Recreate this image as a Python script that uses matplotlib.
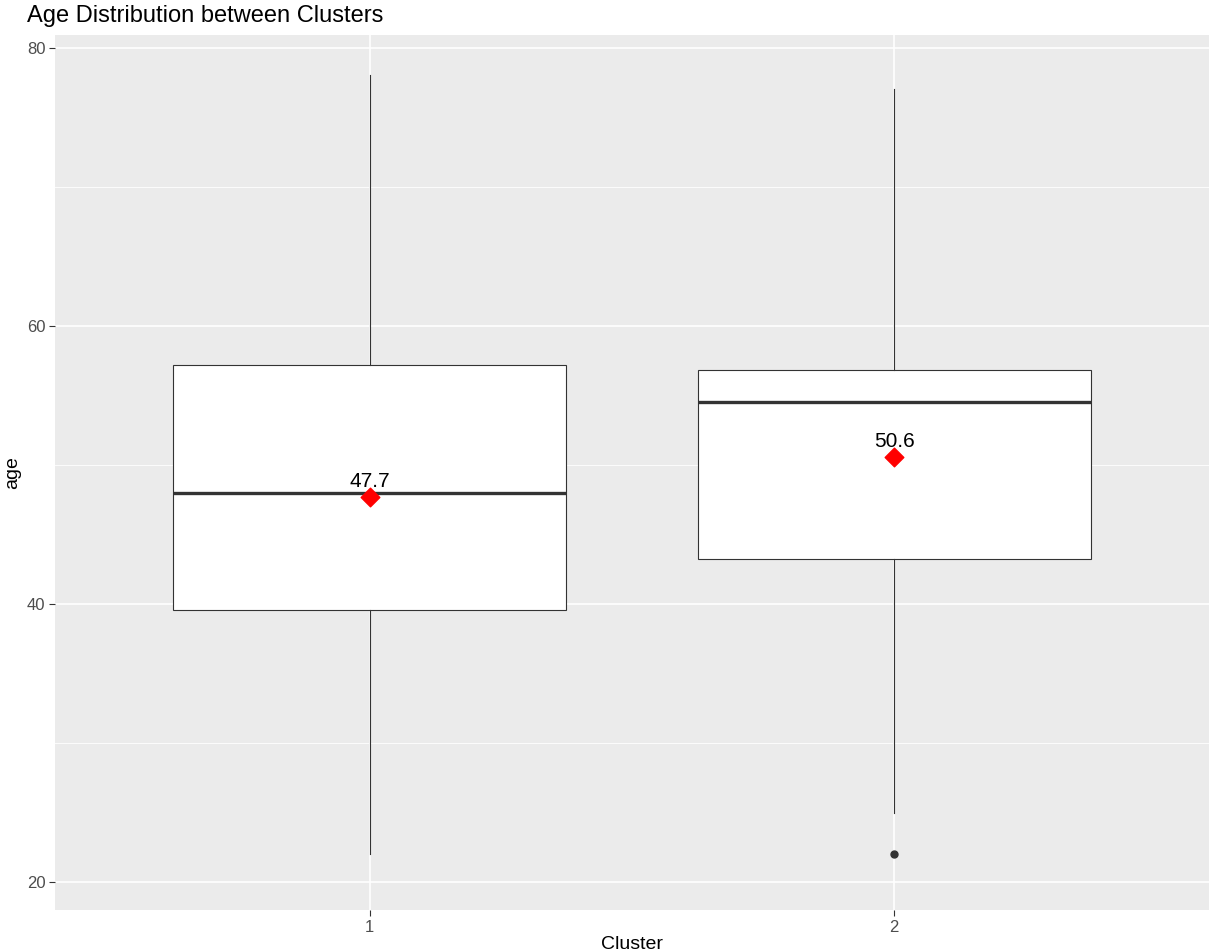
import matplotlib.pyplot as plt

clusters = ["1", "2"]
whislo = [22, 25]
q1 = [39.6, 43.2]
med = [48.0, 54.5]
q3 = [57.2, 56.8]
whishi = [78, 77]
means = [47.7, 50.6]
outliers = [[], [22]]

plt.rcParams['font.family'] = ['Liberation Sans', 'DejaVu Sans']

fig = plt.figure(figsize=(12.09, 9.49), dpi=100)
ax = fig.add_axes([55/1209, 39/949, 1 - 55/1209, 875/949])
ax.set_facecolor('#EBEBEB')
for s in ax.spines.values():
    s.set_visible(False)

stats = []
for i in range(len(clusters)):
    stats.append(dict(whislo=whislo[i], q1=q1[i], med=med[i], q3=q3[i],
                      whishi=whishi[i], fliers=outliers[i]))
pos = list(range(1, len(clusters) + 1))
ax.bxp(stats, positions=pos, widths=0.75, patch_artist=True, showcaps=False,
       boxprops=dict(facecolor='white', edgecolor='#333333', linewidth=0.8),
       whiskerprops=dict(color='#333333', linewidth=0.8),
       medianprops=dict(color='#333333', linewidth=2.4),
       flierprops=dict(marker='o', markerfacecolor='#333333', markeredgecolor='#333333', markersize=5),
       zorder=3)
ax.scatter(pos, means, marker='D', s=90, color='red', zorder=4)
for p, m in zip(pos, means):
    ax.text(p, m + 0.4, f"{m:.1f}", ha='center', va='bottom', fontsize=15, zorder=5)

ax.set_xlim(0.4, 2.6)
ax.set_ylim(18, 80.9)
ax.set_xticks(pos)
ax.set_xticklabels(clusters)
ax.set_yticks([20, 40, 60, 80])
ax.set_yticks([30, 50, 70], minor=True)
ax.grid(True, which='major', color='white', linewidth=1.2, zorder=0)
ax.grid(True, which='minor', axis='y', color='white', linewidth=0.6, zorder=0)
ax.set_axisbelow(True)
ax.tick_params(axis='both', which='major', colors='#333333', labelcolor='#4D4D4D', labelsize=12, length=4, pad=3)
ax.tick_params(which='minor', length=0)
ax.set_xlabel("Cluster", fontsize=14, labelpad=1)
ax.set_ylabel("age", fontsize=14, labelpad=4)
fig.text(27/1209, 1 - 16/949, "Age Distribution between Clusters", fontsize=17, va='center', ha='left')

fig.savefig("out.png", dpi=100)
